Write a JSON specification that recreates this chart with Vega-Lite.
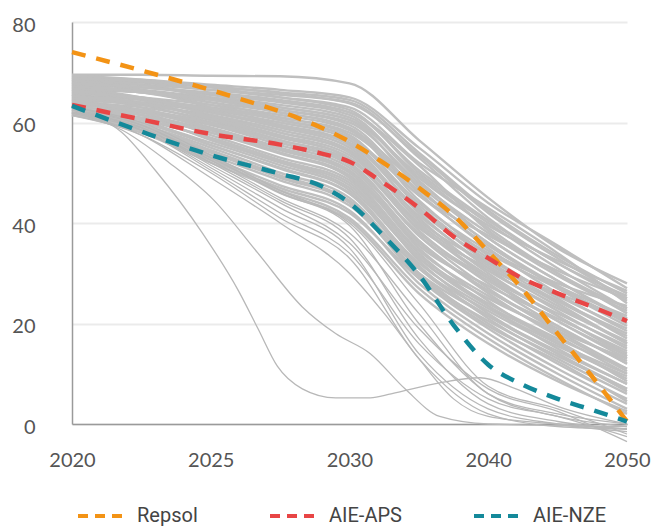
{
"$schema": "https://vega.github.io/schema/vega-lite/v6.json",
"width": 555, "height": 402,
"autosize": {"type": "none"},
"padding": {"left": 72, "top": 22, "right": 26, "bottom": 106},
"background": "white",
"config": {"view": {"stroke": null}, "font": "Lato"},
"datasets": {
"grey": [
{"s":"g1","x":2020,"y":69.5},{"s":"g1","x":2022.5,"y":69.5},{"s":"g1","x":2025,"y":69.3},{"s":"g1","x":2027.5,"y":69.2},{"s":"g1","x":2030,"y":67.8},{"s":"g1","x":2035,"y":56.5},{"s":"g1","x":2040,"y":45},{"s":"g1","x":2045,"y":35},{"s":"g1","x":2050,"y":28},
{"s":"g2","x":2020,"y":69},{"s":"g2","x":2022.5,"y":68.5},{"s":"g2","x":2025,"y":67.5},{"s":"g2","x":2027.5,"y":66.5},{"s":"g2","x":2030,"y":65},{"s":"g2","x":2035,"y":55},{"s":"g2","x":2040,"y":44},{"s":"g2","x":2045,"y":35.5},{"s":"g2","x":2050,"y":27},
{"s":"g3","x":2020,"y":68.5},{"s":"g3","x":2022.5,"y":68},{"s":"g3","x":2025,"y":67},{"s":"g3","x":2027.5,"y":66},{"s":"g3","x":2030,"y":64.5},{"s":"g3","x":2035,"y":54},{"s":"g3","x":2040,"y":42.5},{"s":"g3","x":2045,"y":33.5},{"s":"g3","x":2050,"y":26},
{"s":"g4","x":2020,"y":69},{"s":"g4","x":2022.5,"y":68},{"s":"g4","x":2025,"y":66.5},{"s":"g4","x":2027.5,"y":65.5},{"s":"g4","x":2030,"y":64},{"s":"g4","x":2035,"y":53},{"s":"g4","x":2040,"y":41},{"s":"g4","x":2045,"y":32},{"s":"g4","x":2050,"y":25.5},
{"s":"g5","x":2020,"y":68},{"s":"g5","x":2022.5,"y":67.5},{"s":"g5","x":2025,"y":66.5},{"s":"g5","x":2027.5,"y":65},{"s":"g5","x":2030,"y":63},{"s":"g5","x":2035,"y":52},{"s":"g5","x":2040,"y":43},{"s":"g5","x":2045,"y":34},{"s":"g5","x":2050,"y":24},
{"s":"g6","x":2020,"y":69.3},{"s":"g6","x":2022.5,"y":68.5},{"s":"g6","x":2025,"y":67},{"s":"g6","x":2027.5,"y":65},{"s":"g6","x":2030,"y":62.5},{"s":"g6","x":2035,"y":50},{"s":"g6","x":2040,"y":40},{"s":"g6","x":2045,"y":31},{"s":"g6","x":2050,"y":23},
{"s":"g7","x":2020,"y":67.5},{"s":"g7","x":2022.5,"y":67},{"s":"g7","x":2025,"y":66},{"s":"g7","x":2027.5,"y":64.5},{"s":"g7","x":2030,"y":62},{"s":"g7","x":2035,"y":51.5},{"s":"g7","x":2040,"y":38.5},{"s":"g7","x":2045,"y":30},{"s":"g7","x":2050,"y":22},
{"s":"g8","x":2020,"y":68.5},{"s":"g8","x":2022.5,"y":67.5},{"s":"g8","x":2025,"y":65.5},{"s":"g8","x":2027.5,"y":64},{"s":"g8","x":2030,"y":61.5},{"s":"g8","x":2035,"y":49},{"s":"g8","x":2040,"y":39.5},{"s":"g8","x":2045,"y":32.5},{"s":"g8","x":2050,"y":26.5},
{"s":"g9","x":2020,"y":67},{"s":"g9","x":2022.5,"y":66.5},{"s":"g9","x":2025,"y":65},{"s":"g9","x":2027.5,"y":63.5},{"s":"g9","x":2030,"y":61},{"s":"g9","x":2035,"y":48.5},{"s":"g9","x":2040,"y":37},{"s":"g9","x":2045,"y":28.5},{"s":"g9","x":2050,"y":21},
{"s":"g10","x":2020,"y":68},{"s":"g10","x":2022.5,"y":67},{"s":"g10","x":2025,"y":65.5},{"s":"g10","x":2027.5,"y":63},{"s":"g10","x":2030,"y":60.5},{"s":"g10","x":2035,"y":47},{"s":"g10","x":2040,"y":36},{"s":"g10","x":2045,"y":27.5},{"s":"g10","x":2050,"y":20},
{"s":"g11","x":2020,"y":66.5},{"s":"g11","x":2022.5,"y":66},{"s":"g11","x":2025,"y":64.5},{"s":"g11","x":2027.5,"y":62.5},{"s":"g11","x":2030,"y":60},{"s":"g11","x":2035,"y":48},{"s":"g11","x":2040,"y":38},{"s":"g11","x":2045,"y":29.5},{"s":"g11","x":2050,"y":22.5},
{"s":"g12","x":2020,"y":69},{"s":"g12","x":2022.5,"y":67.5},{"s":"g12","x":2025,"y":65},{"s":"g12","x":2027.5,"y":62.5},{"s":"g12","x":2030,"y":59.5},{"s":"g12","x":2035,"y":46},{"s":"g12","x":2040,"y":35},{"s":"g12","x":2045,"y":26},{"s":"g12","x":2050,"y":18.5},
{"s":"g13","x":2020,"y":67},{"s":"g13","x":2022.5,"y":66},{"s":"g13","x":2025,"y":64},{"s":"g13","x":2027.5,"y":62},{"s":"g13","x":2030,"y":59},{"s":"g13","x":2035,"y":45.5},{"s":"g13","x":2040,"y":37.5},{"s":"g13","x":2045,"y":30.5},{"s":"g13","x":2050,"y":25},
{"s":"g14","x":2020,"y":66},{"s":"g14","x":2022.5,"y":65},{"s":"g14","x":2025,"y":63.5},{"s":"g14","x":2027.5,"y":61.5},{"s":"g14","x":2030,"y":58.5},{"s":"g14","x":2035,"y":44.5},{"s":"g14","x":2040,"y":33.5},{"s":"g14","x":2045,"y":25},{"s":"g14","x":2050,"y":17},
{"s":"g15","x":2020,"y":68},{"s":"g15","x":2022.5,"y":66.5},{"s":"g15","x":2025,"y":64},{"s":"g15","x":2027.5,"y":61},{"s":"g15","x":2030,"y":58},{"s":"g15","x":2035,"y":46.5},{"s":"g15","x":2040,"y":36},{"s":"g15","x":2045,"y":27},{"s":"g15","x":2050,"y":19.5},
{"s":"g16","x":2020,"y":65.5},{"s":"g16","x":2022.5,"y":64.5},{"s":"g16","x":2025,"y":63},{"s":"g16","x":2027.5,"y":61},{"s":"g16","x":2030,"y":57.5},{"s":"g16","x":2035,"y":43},{"s":"g16","x":2040,"y":32},{"s":"g16","x":2045,"y":24},{"s":"g16","x":2050,"y":16},
{"s":"g17","x":2020,"y":67.5},{"s":"g17","x":2022.5,"y":66},{"s":"g17","x":2025,"y":63.5},{"s":"g17","x":2027.5,"y":60.5},{"s":"g17","x":2030,"y":57},{"s":"g17","x":2035,"y":44},{"s":"g17","x":2040,"y":34.5},{"s":"g17","x":2045,"y":28},{"s":"g17","x":2050,"y":23.5},
{"s":"g18","x":2020,"y":66.5},{"s":"g18","x":2022.5,"y":65},{"s":"g18","x":2025,"y":62.5},{"s":"g18","x":2027.5,"y":60},{"s":"g18","x":2030,"y":56.5},{"s":"g18","x":2035,"y":42},{"s":"g18","x":2040,"y":31},{"s":"g18","x":2045,"y":22.5},{"s":"g18","x":2050,"y":15},
{"s":"g19","x":2020,"y":65},{"s":"g19","x":2022.5,"y":64},{"s":"g19","x":2025,"y":62},{"s":"g19","x":2027.5,"y":59.5},{"s":"g19","x":2030,"y":56},{"s":"g19","x":2035,"y":43.5},{"s":"g19","x":2040,"y":33},{"s":"g19","x":2045,"y":25.5},{"s":"g19","x":2050,"y":19},
{"s":"g20","x":2020,"y":68.5},{"s":"g20","x":2022.5,"y":66.5},{"s":"g20","x":2025,"y":63},{"s":"g20","x":2027.5,"y":59.5},{"s":"g20","x":2030,"y":55.5},{"s":"g20","x":2035,"y":41},{"s":"g20","x":2040,"y":30},{"s":"g20","x":2045,"y":21.5},{"s":"g20","x":2050,"y":14},
{"s":"g21","x":2020,"y":66},{"s":"g21","x":2022.5,"y":64.5},{"s":"g21","x":2025,"y":62},{"s":"g21","x":2027.5,"y":59},{"s":"g21","x":2030,"y":55},{"s":"g21","x":2035,"y":40.5},{"s":"g21","x":2040,"y":32},{"s":"g21","x":2045,"y":26},{"s":"g21","x":2050,"y":21},
{"s":"g22","x":2020,"y":64.5},{"s":"g22","x":2022.5,"y":63.5},{"s":"g22","x":2025,"y":61.5},{"s":"g22","x":2027.5,"y":58.5},{"s":"g22","x":2030,"y":54.5},{"s":"g22","x":2035,"y":42.5},{"s":"g22","x":2040,"y":34},{"s":"g22","x":2045,"y":27},{"s":"g22","x":2050,"y":20.5},
{"s":"g23","x":2020,"y":67},{"s":"g23","x":2022.5,"y":65},{"s":"g23","x":2025,"y":61.5},{"s":"g23","x":2027.5,"y":58},{"s":"g23","x":2030,"y":54},{"s":"g23","x":2035,"y":39.5},{"s":"g23","x":2040,"y":29},{"s":"g23","x":2045,"y":20.5},{"s":"g23","x":2050,"y":13},
{"s":"g24","x":2020,"y":65.5},{"s":"g24","x":2022.5,"y":64},{"s":"g24","x":2025,"y":61},{"s":"g24","x":2027.5,"y":57.5},{"s":"g24","x":2030,"y":53.5},{"s":"g24","x":2035,"y":40},{"s":"g24","x":2040,"y":30.5},{"s":"g24","x":2045,"y":23},{"s":"g24","x":2050,"y":16.5},
{"s":"g25","x":2020,"y":64},{"s":"g25","x":2022.5,"y":63},{"s":"g25","x":2025,"y":60.5},{"s":"g25","x":2027.5,"y":57},{"s":"g25","x":2030,"y":53},{"s":"g25","x":2035,"y":38.5},{"s":"g25","x":2040,"y":28},{"s":"g25","x":2045,"y":19.5},{"s":"g25","x":2050,"y":12},
{"s":"g26","x":2020,"y":66.5},{"s":"g26","x":2022.5,"y":64.5},{"s":"g26","x":2025,"y":60.5},{"s":"g26","x":2027.5,"y":56.5},{"s":"g26","x":2030,"y":52.5},{"s":"g26","x":2035,"y":39},{"s":"g26","x":2040,"y":31},{"s":"g26","x":2045,"y":24.5},{"s":"g26","x":2050,"y":18},
{"s":"g27","x":2020,"y":63.5},{"s":"g27","x":2022.5,"y":62.5},{"s":"g27","x":2025,"y":60},{"s":"g27","x":2027.5,"y":56.5},{"s":"g27","x":2030,"y":52},{"s":"g27","x":2035,"y":37.5},{"s":"g27","x":2040,"y":27},{"s":"g27","x":2045,"y":18.5},{"s":"g27","x":2050,"y":11},
{"s":"g28","x":2020,"y":65},{"s":"g28","x":2022.5,"y":63.5},{"s":"g28","x":2025,"y":60},{"s":"g28","x":2027.5,"y":56},{"s":"g28","x":2030,"y":51.5},{"s":"g28","x":2035,"y":38},{"s":"g28","x":2040,"y":29},{"s":"g28","x":2045,"y":22},{"s":"g28","x":2050,"y":15.5},
{"s":"g29","x":2020,"y":63},{"s":"g29","x":2022.5,"y":62},{"s":"g29","x":2025,"y":59.5},{"s":"g29","x":2027.5,"y":55.5},{"s":"g29","x":2030,"y":51},{"s":"g29","x":2035,"y":36.5},{"s":"g29","x":2040,"y":26},{"s":"g29","x":2045,"y":17.5},{"s":"g29","x":2050,"y":10},
{"s":"g30","x":2020,"y":64.5},{"s":"g30","x":2022.5,"y":62.5},{"s":"g30","x":2025,"y":59},{"s":"g30","x":2027.5,"y":55},{"s":"g30","x":2030,"y":50.5},{"s":"g30","x":2035,"y":35.5},{"s":"g30","x":2040,"y":27.5},{"s":"g30","x":2045,"y":21},{"s":"g30","x":2050,"y":14.5},
{"s":"g31","x":2020,"y":62.5},{"s":"g31","x":2022.5,"y":61.5},{"s":"g31","x":2025,"y":58.5},{"s":"g31","x":2027.5,"y":54.5},{"s":"g31","x":2030,"y":50},{"s":"g31","x":2035,"y":35},{"s":"g31","x":2040,"y":24.5},{"s":"g31","x":2045,"y":16},{"s":"g31","x":2050,"y":9},
{"s":"g32","x":2020,"y":65.5},{"s":"g32","x":2022.5,"y":63},{"s":"g32","x":2025,"y":58.5},{"s":"g32","x":2027.5,"y":54},{"s":"g32","x":2030,"y":49.5},{"s":"g32","x":2035,"y":36},{"s":"g32","x":2040,"y":26.5},{"s":"g32","x":2045,"y":19},{"s":"g32","x":2050,"y":12.5},
{"s":"g33","x":2020,"y":62},{"s":"g33","x":2022.5,"y":61},{"s":"g33","x":2025,"y":58},{"s":"g33","x":2027.5,"y":54},{"s":"g33","x":2030,"y":49},{"s":"g33","x":2035,"y":34},{"s":"g33","x":2040,"y":23.5},{"s":"g33","x":2045,"y":15},{"s":"g33","x":2050,"y":8},
{"s":"g34","x":2020,"y":63.5},{"s":"g34","x":2022.5,"y":62},{"s":"g34","x":2025,"y":57.5},{"s":"g34","x":2027.5,"y":53},{"s":"g34","x":2030,"y":48.5},{"s":"g34","x":2035,"y":33.5},{"s":"g34","x":2040,"y":25},{"s":"g34","x":2045,"y":18.5},{"s":"g34","x":2050,"y":13},
{"s":"g35","x":2020,"y":62.5},{"s":"g35","x":2022.5,"y":60.5},{"s":"g35","x":2025,"y":57},{"s":"g35","x":2027.5,"y":52.5},{"s":"g35","x":2030,"y":48},{"s":"g35","x":2035,"y":32.5},{"s":"g35","x":2040,"y":22},{"s":"g35","x":2045,"y":14},{"s":"g35","x":2050,"y":7},
{"s":"g36","x":2020,"y":64},{"s":"g36","x":2022.5,"y":61.5},{"s":"g36","x":2025,"y":56.5},{"s":"g36","x":2027.5,"y":52},{"s":"g36","x":2030,"y":47},{"s":"g36","x":2035,"y":33},{"s":"g36","x":2040,"y":24},{"s":"g36","x":2045,"y":17},{"s":"g36","x":2050,"y":11},
{"s":"g37","x":2020,"y":62},{"s":"g37","x":2022.5,"y":60},{"s":"g37","x":2025,"y":56},{"s":"g37","x":2027.5,"y":51.5},{"s":"g37","x":2030,"y":46.5},{"s":"g37","x":2035,"y":31.5},{"s":"g37","x":2040,"y":21},{"s":"g37","x":2045,"y":13},{"s":"g37","x":2050,"y":6},
{"s":"g38","x":2020,"y":63},{"s":"g38","x":2022.5,"y":60.5},{"s":"g38","x":2025,"y":55.5},{"s":"g38","x":2027.5,"y":51},{"s":"g38","x":2030,"y":46},{"s":"g38","x":2035,"y":32},{"s":"g38","x":2040,"y":23},{"s":"g38","x":2045,"y":16},{"s":"g38","x":2050,"y":10},
{"s":"g39","x":2020,"y":61.8},{"s":"g39","x":2022.5,"y":59.5},{"s":"g39","x":2025,"y":55},{"s":"g39","x":2027.5,"y":50},{"s":"g39","x":2030,"y":45},{"s":"g39","x":2035,"y":30},{"s":"g39","x":2040,"y":20},{"s":"g39","x":2045,"y":12},{"s":"g39","x":2050,"y":5},
{"s":"g40","x":2020,"y":62.5},{"s":"g40","x":2022.5,"y":59.5},{"s":"g40","x":2025,"y":54.5},{"s":"g40","x":2027.5,"y":49.5},{"s":"g40","x":2030,"y":44.5},{"s":"g40","x":2035,"y":31},{"s":"g40","x":2040,"y":22.5},{"s":"g40","x":2045,"y":15.5},{"s":"g40","x":2050,"y":9.5},
{"s":"g41","x":2020,"y":61.5},{"s":"g41","x":2022.5,"y":59},{"s":"g41","x":2025,"y":54},{"s":"g41","x":2027.5,"y":49},{"s":"g41","x":2030,"y":44},{"s":"g41","x":2035,"y":29},{"s":"g41","x":2040,"y":19},{"s":"g41","x":2045,"y":11},{"s":"g41","x":2050,"y":4},
{"s":"g42","x":2020,"y":62},{"s":"g42","x":2022.5,"y":59},{"s":"g42","x":2025,"y":53.5},{"s":"g42","x":2027.5,"y":48.5},{"s":"g42","x":2030,"y":43.5},{"s":"g42","x":2035,"y":30},{"s":"g42","x":2040,"y":21.5},{"s":"g42","x":2045,"y":14.5},{"s":"g42","x":2050,"y":8},
{"s":"g43","x":2020,"y":61.5},{"s":"g43","x":2022.5,"y":58.5},{"s":"g43","x":2025,"y":53},{"s":"g43","x":2027.5,"y":47.5},{"s":"g43","x":2030,"y":42.5},{"s":"g43","x":2035,"y":28},{"s":"g43","x":2040,"y":18},{"s":"g43","x":2045,"y":10},{"s":"g43","x":2050,"y":3},
{"s":"g44","x":2020,"y":62},{"s":"g44","x":2022.5,"y":58.5},{"s":"g44","x":2025,"y":52.5},{"s":"g44","x":2027.5,"y":47},{"s":"g44","x":2030,"y":42},{"s":"g44","x":2035,"y":29},{"s":"g44","x":2040,"y":20.5},{"s":"g44","x":2045,"y":13.5},{"s":"g44","x":2050,"y":7},
{"s":"g45","x":2020,"y":61.5},{"s":"g45","x":2022.5,"y":58},{"s":"g45","x":2025,"y":52},{"s":"g45","x":2027.5,"y":46.5},{"s":"g45","x":2030,"y":41},{"s":"g45","x":2035,"y":27},{"s":"g45","x":2040,"y":17},{"s":"g45","x":2045,"y":9},{"s":"g45","x":2050,"y":2},
{"s":"g46","x":2020,"y":62},{"s":"g46","x":2022.5,"y":58.5},{"s":"g46","x":2025,"y":53},{"s":"g46","x":2027.5,"y":46},{"s":"g46","x":2030,"y":40.5},{"s":"g46","x":2035,"y":26},{"s":"g46","x":2040,"y":16},{"s":"g46","x":2045,"y":8.5},{"s":"g46","x":2050,"y":2.5},
{"s":"g47","x":2020,"y":68.8},{"s":"g47","x":2022.5,"y":68.2},{"s":"g47","x":2025,"y":67.2},{"s":"g47","x":2027.5,"y":65.8},{"s":"g47","x":2030,"y":63.8},{"s":"g47","x":2035,"y":53.5},{"s":"g47","x":2040,"y":42},{"s":"g47","x":2045,"y":33},{"s":"g47","x":2050,"y":25},
{"s":"g48","x":2020,"y":67.8},{"s":"g48","x":2022.5,"y":67},{"s":"g48","x":2025,"y":65.8},{"s":"g48","x":2027.5,"y":64.2},{"s":"g48","x":2030,"y":62},{"s":"g48","x":2035,"y":50.5},{"s":"g48","x":2040,"y":40.5},{"s":"g48","x":2045,"y":32},{"s":"g48","x":2050,"y":24.5},
{"s":"g49","x":2020,"y":66.8},{"s":"g49","x":2022.5,"y":66},{"s":"g49","x":2025,"y":64.8},{"s":"g49","x":2027.5,"y":63},{"s":"g49","x":2030,"y":60.5},{"s":"g49","x":2035,"y":49.5},{"s":"g49","x":2040,"y":39},{"s":"g49","x":2045,"y":30},{"s":"g49","x":2050,"y":23},
{"s":"g50","x":2020,"y":67.2},{"s":"g50","x":2022.5,"y":66.2},{"s":"g50","x":2025,"y":64.5},{"s":"g50","x":2027.5,"y":62},{"s":"g50","x":2030,"y":58.8},{"s":"g50","x":2035,"y":47.5},{"s":"g50","x":2040,"y":37},{"s":"g50","x":2045,"y":28.5},{"s":"g50","x":2050,"y":20.5},
{"s":"g51","x":2020,"y":65.8},{"s":"g51","x":2022.5,"y":64.8},{"s":"g51","x":2025,"y":62.8},{"s":"g51","x":2027.5,"y":60.5},{"s":"g51","x":2030,"y":57},{"s":"g51","x":2035,"y":45.5},{"s":"g51","x":2040,"y":35.5},{"s":"g51","x":2045,"y":27.5},{"s":"g51","x":2050,"y":21.5},
{"s":"g52","x":2020,"y":66.2},{"s":"g52","x":2022.5,"y":64.8},{"s":"g52","x":2025,"y":62.3},{"s":"g52","x":2027.5,"y":59.2},{"s":"g52","x":2030,"y":55.8},{"s":"g52","x":2035,"y":42.5},{"s":"g52","x":2040,"y":32.5},{"s":"g52","x":2045,"y":24.5},{"s":"g52","x":2050,"y":17.5},
{"s":"g53","x":2020,"y":64.8},{"s":"g53","x":2022.5,"y":63.5},{"s":"g53","x":2025,"y":61.2},{"s":"g53","x":2027.5,"y":58},{"s":"g53","x":2030,"y":54.2},{"s":"g53","x":2035,"y":41.5},{"s":"g53","x":2040,"y":31.5},{"s":"g53","x":2045,"y":23.5},{"s":"g53","x":2050,"y":16},
{"s":"g54","x":2020,"y":65.2},{"s":"g54","x":2022.5,"y":63.8},{"s":"g54","x":2025,"y":60.8},{"s":"g54","x":2027.5,"y":57.2},{"s":"g54","x":2030,"y":52.8},{"s":"g54","x":2035,"y":39.5},{"s":"g54","x":2040,"y":29.5},{"s":"g54","x":2045,"y":21.5},{"s":"g54","x":2050,"y":13.5},
{"s":"g55","x":2020,"y":63.8},{"s":"g55","x":2022.5,"y":62.5},{"s":"g55","x":2025,"y":59.8},{"s":"g55","x":2027.5,"y":56},{"s":"g55","x":2030,"y":51.8},{"s":"g55","x":2035,"y":37.5},{"s":"g55","x":2040,"y":28.5},{"s":"g55","x":2045,"y":20.5},{"s":"g55","x":2050,"y":13.5},
{"s":"g56","x":2020,"y":64.2},{"s":"g56","x":2022.5,"y":62.2},{"s":"g56","x":2025,"y":58.8},{"s":"g56","x":2027.5,"y":54.8},{"s":"g56","x":2030,"y":50.2},{"s":"g56","x":2035,"y":36.5},{"s":"g56","x":2040,"y":26.5},{"s":"g56","x":2045,"y":19.5},{"s":"g56","x":2050,"y":12},
{"s":"g57","x":2020,"y":63.2},{"s":"g57","x":2022.5,"y":61.5},{"s":"g57","x":2025,"y":58},{"s":"g57","x":2027.5,"y":53.8},{"s":"g57","x":2030,"y":49.2},{"s":"g57","x":2035,"y":34.5},{"s":"g57","x":2040,"y":25.5},{"s":"g57","x":2045,"y":18},{"s":"g57","x":2050,"y":10.5},
{"s":"g58","x":2020,"y":62.8},{"s":"g58","x":2022.5,"y":60.8},{"s":"g58","x":2025,"y":56.8},{"s":"g58","x":2027.5,"y":52.2},{"s":"g58","x":2030,"y":47.5},{"s":"g58","x":2035,"y":33},{"s":"g58","x":2040,"y":23.5},{"s":"g58","x":2045,"y":16.5},{"s":"g58","x":2050,"y":8.5},
{"s":"g59","x":2020,"y":62.3},{"s":"g59","x":2022.5,"y":60},{"s":"g59","x":2025,"y":55.5},{"s":"g59","x":2027.5,"y":50.8},{"s":"g59","x":2030,"y":45.8},{"s":"g59","x":2035,"y":31},{"s":"g59","x":2040,"y":21.5},{"s":"g59","x":2045,"y":14},{"s":"g59","x":2050,"y":6.5},
{"s":"g60","x":2020,"y":61.8},{"s":"g60","x":2022.5,"y":59.2},{"s":"g60","x":2025,"y":54.2},{"s":"g60","x":2027.5,"y":49.2},{"s":"g60","x":2030,"y":44.2},{"s":"g60","x":2035,"y":29.5},{"s":"g60","x":2040,"y":19.5},{"s":"g60","x":2045,"y":12.5},{"s":"g60","x":2050,"y":4.5},
{"s":"l1","x":2020,"y":62.5},{"s":"l1","x":2022.5,"y":59.5},{"s":"l1","x":2025,"y":53},{"s":"l1","x":2027.5,"y":46},{"s":"l1","x":2030,"y":39.5},{"s":"l1","x":2035,"y":20},{"s":"l1","x":2040,"y":6},{"s":"l1","x":2045,"y":1.5},{"s":"l1","x":2050,"y":-0.5},
{"s":"l2","x":2020,"y":62},{"s":"l2","x":2022.5,"y":59},{"s":"l2","x":2025,"y":52},{"s":"l2","x":2027.5,"y":44.5},{"s":"l2","x":2030,"y":37},{"s":"l2","x":2035,"y":17},{"s":"l2","x":2040,"y":4},{"s":"l2","x":2045,"y":0.5},{"s":"l2","x":2050,"y":-1},
{"s":"l3","x":2020,"y":61.8},{"s":"l3","x":2022.5,"y":58.5},{"s":"l3","x":2025,"y":51},{"s":"l3","x":2027.5,"y":43},{"s":"l3","x":2030,"y":35},{"s":"l3","x":2035,"y":14},{"s":"l3","x":2040,"y":3},{"s":"l3","x":2045,"y":0},{"s":"l3","x":2050,"y":-1.5},
{"s":"l4","x":2020,"y":63},{"s":"l4","x":2022.5,"y":59.5},{"s":"l4","x":2025,"y":52.5},{"s":"l4","x":2027.5,"y":45},{"s":"l4","x":2030,"y":38},{"s":"l4","x":2035,"y":22},{"s":"l4","x":2040,"y":6},{"s":"l4","x":2045,"y":2},{"s":"l4","x":2050,"y":0},
{"s":"l5","x":2020,"y":62.5},{"s":"l5","x":2022.5,"y":58.5},{"s":"l5","x":2025,"y":50.5},{"s":"l5","x":2027.5,"y":42},{"s":"l5","x":2030,"y":34},{"s":"l5","x":2035,"y":16},{"s":"l5","x":2040,"y":5},{"s":"l5","x":2045,"y":1.5},{"s":"l5","x":2050,"y":-2.5},
{"s":"l6","x":2020,"y":62},{"s":"l6","x":2022.5,"y":59},{"s":"l6","x":2025,"y":51.5},{"s":"l6","x":2027.5,"y":44},{"s":"l6","x":2030,"y":36},{"s":"l6","x":2035,"y":19},{"s":"l6","x":2040,"y":7},{"s":"l6","x":2045,"y":2.5},{"s":"l6","x":2050,"y":-3.5},
{"s":"l7","x":2020,"y":61.5},{"s":"l7","x":2022.5,"y":57.5},{"s":"l7","x":2025,"y":50},{"s":"l7","x":2027.5,"y":41},{"s":"l7","x":2030,"y":33},{"s":"l7","x":2035,"y":13},{"s":"l7","x":2040,"y":2},{"s":"l7","x":2045,"y":-0.5},{"s":"l7","x":2050,"y":-1},
{"s":"l8","x":2020,"y":63},{"s":"l8","x":2022.5,"y":60},{"s":"l8","x":2025,"y":53.5},{"s":"l8","x":2027.5,"y":46.5},{"s":"l8","x":2030,"y":40},{"s":"l8","x":2035,"y":24},{"s":"l8","x":2040,"y":7.5},{"s":"l8","x":2045,"y":3},{"s":"l8","x":2050,"y":-2},
{"s":"oA","x":2020,"y":62.5},{"s":"oA","x":2021.8,"y":58},{"s":"oA","x":2023,"y":50.5},{"s":"oA","x":2024.7,"y":38},{"s":"oA","x":2026,"y":26.5},{"s":"oA","x":2026.7,"y":19},{"s":"oA","x":2027.4,"y":11.5},{"s":"oA","x":2028.3,"y":7},{"s":"oA","x":2029.5,"y":5.2},{"s":"oA","x":2031.5,"y":5.2},{"s":"oA","x":2033,"y":6},{"s":"oA","x":2036.5,"y":8.2},{"s":"oA","x":2039.4,"y":9.2},{"s":"oA","x":2042,"y":7},{"s":"oA","x":2045,"y":3.5},{"s":"oA","x":2050,"y":0},
{"s":"oB","x":2020,"y":62},{"s":"oB","x":2021.8,"y":58.5},{"s":"oB","x":2023.5,"y":52},{"s":"oB","x":2025.1,"y":44.6},{"s":"oB","x":2026.7,"y":34},{"s":"oB","x":2028.3,"y":23.3},{"s":"oB","x":2029.5,"y":18},{"s":"oB","x":2031.5,"y":14},{"s":"oB","x":2034,"y":7},{"s":"oB","x":2036.5,"y":1.5},{"s":"oB","x":2040,"y":0},{"s":"oB","x":2050,"y":-0.5},
{"s":"oC","x":2020,"y":62},{"s":"oC","x":2022.5,"y":57.5},{"s":"oC","x":2025,"y":49},{"s":"oC","x":2027.5,"y":40},{"s":"oC","x":2030,"y":30},{"s":"oC","x":2032.5,"y":22},{"s":"oC","x":2035,"y":13},{"s":"oC","x":2037.5,"y":5},{"s":"oC","x":2040,"y":1.5},{"s":"oC","x":2045,"y":0},{"s":"oC","x":2050,"y":-1}
],
"scen": [
{"k":"Repsol","x":2020,"y":74},{"k":"Repsol","x":2023,"y":69.6},{"k":"Repsol","x":2026,"y":64.8},{"k":"Repsol","x":2028,"y":61.2},{"k":"Repsol","x":2030,"y":56.2},{"k":"Repsol","x":2032.7,"y":51.5},{"k":"Repsol","x":2035,"y":47},{"k":"Repsol","x":2037.7,"y":41},{"k":"Repsol","x":2040,"y":34.3},{"k":"Repsol","x":2042.5,"y":26.7},{"k":"Repsol","x":2045,"y":18},{"k":"Repsol","x":2047.5,"y":9.4},{"k":"Repsol","x":2050,"y":0.5},
{"k":"AIE-APS","x":2020,"y":63.5},{"k":"AIE-APS","x":2022.5,"y":60.6},{"k":"AIE-APS","x":2025,"y":57.7},{"k":"AIE-APS","x":2027.5,"y":55.6},{"k":"AIE-APS","x":2029,"y":53.8},{"k":"AIE-APS","x":2030,"y":52.2},{"k":"AIE-APS","x":2032,"y":48.8},{"k":"AIE-APS","x":2035,"y":43},{"k":"AIE-APS","x":2037.5,"y":37.3},{"k":"AIE-APS","x":2040,"y":33},{"k":"AIE-APS","x":2042.5,"y":28.9},{"k":"AIE-APS","x":2045,"y":26},{"k":"AIE-APS","x":2047.5,"y":23.3},{"k":"AIE-APS","x":2050,"y":20.5},
{"k":"AIE-NZE","x":2020,"y":63.3},{"k":"AIE-NZE","x":2022.5,"y":58.2},{"k":"AIE-NZE","x":2025,"y":53.5},{"k":"AIE-NZE","x":2027.5,"y":49.8},{"k":"AIE-NZE","x":2029,"y":47.3},{"k":"AIE-NZE","x":2030,"y":44},{"k":"AIE-NZE","x":2032.5,"y":37.3},{"k":"AIE-NZE","x":2035,"y":29.7},{"k":"AIE-NZE","x":2037.5,"y":19.7},{"k":"AIE-NZE","x":2040,"y":11.8},{"k":"AIE-NZE","x":2042.5,"y":7.8},{"k":"AIE-NZE","x":2045,"y":5},{"k":"AIE-NZE","x":2047.5,"y":2.8},{"k":"AIE-NZE","x":2050,"y":0.5}
]
},
"layer": [
{
"data": {"name": "grey"},
"transform": [{"filter": "indexof(datum.s, 'g') == 0"}],
"mark": {"type": "line", "color": "#bfbfbf", "strokeWidth": 2.4, "interpolate": "monotone", "clip": false},
"encoding": {
"x": {"field": "x", "type": "quantitative",
"scale": {"domain": [2020, 2025, 2030, 2040, 2050], "range": [0, 138.75, 277.5, 416.25, 555], "nice": false, "zero": false},
"axis": {"values": [2020, 2025, 2030, 2040, 2050], "format": "d", "title": null, "ticks": false, "grid": false, "domainColor": "#9a9a9a", "domainWidth": 1.5, "labelFontSize": 20, "labelColor": "#555555", "labelPadding": 26, "labelFlush": false, "labelFont": "Lato"}},
"y": {"field": "y", "type": "quantitative",
"scale": {"domain": [0, 80], "nice": false, "zero": false},
"axis": {"values": [0, 20, 40, 60, 80], "title": null, "ticks": false, "grid": true, "gridColor": "#ebebeb", "gridWidth": 2, "domainColor": "#9a9a9a", "domainWidth": 1.5, "labelFontSize": 20, "labelColor": "#555555", "labelPadding": 37, "labelOffset": 3, "labelFont": "Lato"}},
"detail": {"field": "s", "type": "nominal"}
}
},
{
"data": {"name": "grey"},
"transform": [{"filter": "indexof(datum.s, 'g') != 0"}],
"mark": {"type": "line", "color": "#b8b8b8", "strokeWidth": 1.3, "interpolate": "monotone", "clip": false},
"encoding": {
"x": {"field": "x", "type": "quantitative"},
"y": {"field": "y", "type": "quantitative"},
"detail": {"field": "s", "type": "nominal"}
}
},
{
"data": {"name": "scen"},
"mark": {"type": "line", "strokeWidth": 4.5, "strokeDash": [14, 11], "interpolate": "monotone", "clip": false},
"encoding": {
"x": {"field": "x", "type": "quantitative"},
"y": {"field": "y", "type": "quantitative"},
"color": {"field": "k", "type": "nominal",
"scale": {"domain": ["Repsol", "AIE-APS", "AIE-NZE"], "range": ["#f39315", "#e84545", "#14899a"]},
"legend": {"title": null, "orient": "none", "legendX": 4, "legendY": 470, "direction": "horizontal", "symbolType": "stroke", "symbolSize": 1936, "symbolStrokeWidth": 4, "symbolDash": [10, 7], "labelFont": "Roboto", "labelFontSize": 20, "labelColor": "#444444", "labelOffset": 13, "columnPadding": 64}}
}
}
]
}
